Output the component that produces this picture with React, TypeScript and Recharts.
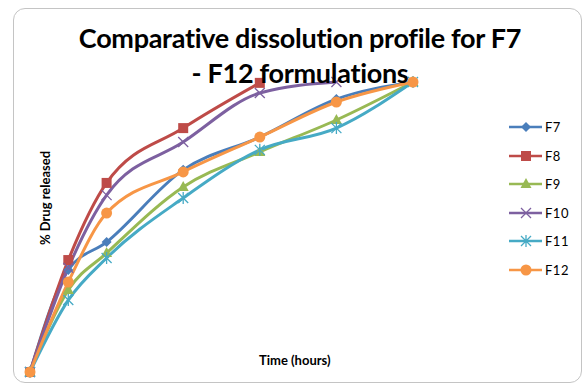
import React from 'react';
import { LineChart, Line, XAxis, YAxis } from 'recharts';

// sampling times (hours) and % drug released per formulation
const hours = [0, 0.5, 1, 2, 3, 4, 5];
const f7 = [0, 35.2, 44.8, 69.7, 81.0, 94.1, 100];
const f8 = [0, 38.6, 65.2, 84.1, 99.7];
const f9 = [0, 28.3, 41.0, 63.8, 75.9, 86.9, 100];
const f10 = [0, 35.9, 61.0, 79.3, 96.2, 100];
const f11 = [0, 24.8, 39.3, 60.0, 76.6, 84.1, 100];
const f12 = [0, 31.0, 54.8, 69.0, 81.0, 93.1, 100];

type Shape = 'diamond' | 'square' | 'triangle' | 'x' | 'star' | 'circle';

const series: { key: string; values: number[]; color: string; shape: Shape }[] = [
  { key: 'F7', values: f7, color: '#4A7EBB', shape: 'diamond' },
  { key: 'F8', values: f8, color: '#BE4B48', shape: 'square' },
  { key: 'F9', values: f9, color: '#98B954', shape: 'triangle' },
  { key: 'F10', values: f10, color: '#7D60A0', shape: 'x' },
  { key: 'F11', values: f11, color: '#46AAC5', shape: 'star' },
  { key: 'F12', values: f12, color: '#F79646', shape: 'circle' },
];

const rows = hours.map((t, i) => {
  const row: Record<string, number | null> = { t };
  series.forEach((s) => {
    row[s.key] = i < s.values.length ? s.values[i] : null;
  });
  return row;
});

const font = 'Lato, "Open Sans", sans-serif';

const Marker = ({ cx, cy, shape, color }: { cx: number; cy: number; shape: Shape; color: string }) => {
  switch (shape) {
    case 'diamond':
      return <path d={`M${cx},${cy - 5}L${cx + 5},${cy}L${cx},${cy + 5}L${cx - 5},${cy}Z`} fill={color} />;
    case 'square':
      return <rect x={cx - 5} y={cy - 5} width={10} height={10} fill={color} />;
    case 'triangle':
      return <path d={`M${cx},${cy - 6}L${cx + 5.5},${cy + 4}L${cx - 5.5},${cy + 4}Z`} fill={color} />;
    case 'x':
      return (
        <path
          d={`M${cx - 5},${cy - 5}L${cx + 5},${cy + 5}M${cx + 5},${cy - 5}L${cx - 5},${cy + 5}`}
          stroke={color}
          strokeWidth={1.3}
        />
      );
    case 'star':
      return (
        <path
          d={`M${cx - 5},${cy - 5}L${cx + 5},${cy + 5}M${cx + 5},${cy - 5}L${cx - 5},${cy + 5}M${cx},${cy - 6}L${cx},${cy + 6}`}
          stroke={color}
          strokeWidth={1.3}
        />
      );
    default:
      return <circle cx={cx} cy={cy} r={5.5} fill={color} />;
  }
};

const ChartLegend = () => (
  <div style={{ position: 'absolute', left: 509, top: 113, fontFamily: font, fontSize: 13, color: '#000' }}>
    {series.map((s) => (
      <div key={s.key} style={{ display: 'flex', alignItems: 'center', height: 28.5 }}>
        <svg width={34} height={14}>
          <line x1={0} y1={7} x2={33} y2={7} stroke={s.color} strokeWidth={2.5} />
          <Marker cx={17} cy={7} shape={s.shape} color={s.color} />
        </svg>
        <span style={{ marginLeft: 2, letterSpacing: 0.5 }}>{s.key}</span>
      </div>
    ))}
  </div>
);

export default function App() {
  return (
    <div style={{ position: 'absolute', left: 0, top: 0, width: 583, height: 383, background: '#fff', overflow: 'hidden' }}>
      <div
        style={{
          position: 'absolute',
          left: 13,
          top: 8,
          width: 567,
          height: 373,
          border: '1.5px solid #c4c4c4',
          borderRadius: 12,
        }}
      />
      <LineChart width={583} height={383} data={rows} margin={{ top: 82, right: 170, bottom: 11, left: 30 }}>
        <XAxis dataKey="t" type="number" domain={[0, 5]} hide />
        <YAxis type="number" domain={[0, 100]} hide />
        {series.map((s) => (
          <Line
            key={s.key}
            dataKey={s.key}
            type="monotone"
            stroke={s.color}
            strokeWidth={3}
            isAnimationActive={false}
            connectNulls={false}
            dot={(p: any) =>
              p.value == null ? <g key={p.index} /> : (
                <Marker key={p.index} cx={p.cx} cy={p.cy} shape={s.shape} color={s.color} />
              )
            }
            activeDot={false}
          />
        ))}
      </LineChart>
      <ChartLegend />
      <div
        style={{
          position: 'absolute',
          left: 0,
          top: 20,
          width: 600,
          textAlign: 'center',
          fontFamily: font,
          fontWeight: 700,
          fontSize: 27,
          lineHeight: '35px',
          letterSpacing: -0.3,
          color: '#000',
        }}
      >
        Comparative dissolution profile for F7
        <br />- F12 formulations
      </div>
      <div
        style={{
          position: 'absolute',
          left: 259,
          top: 352,
          fontFamily: font,
          fontWeight: 700,
          fontSize: 13,
          color: '#000',
        }}
      >
        Time (hours)
      </div>
      <div
        style={{
          position: 'absolute',
          left: 45,
          top: 198,
          transform: 'translate(-50%, -50%) rotate(-90deg)',
          whiteSpace: 'nowrap',
          fontFamily: font,
          fontWeight: 700,
          fontSize: 13,
          color: '#000',
        }}
      >
        % Drug released
      </div>
    </div>
  );
}
